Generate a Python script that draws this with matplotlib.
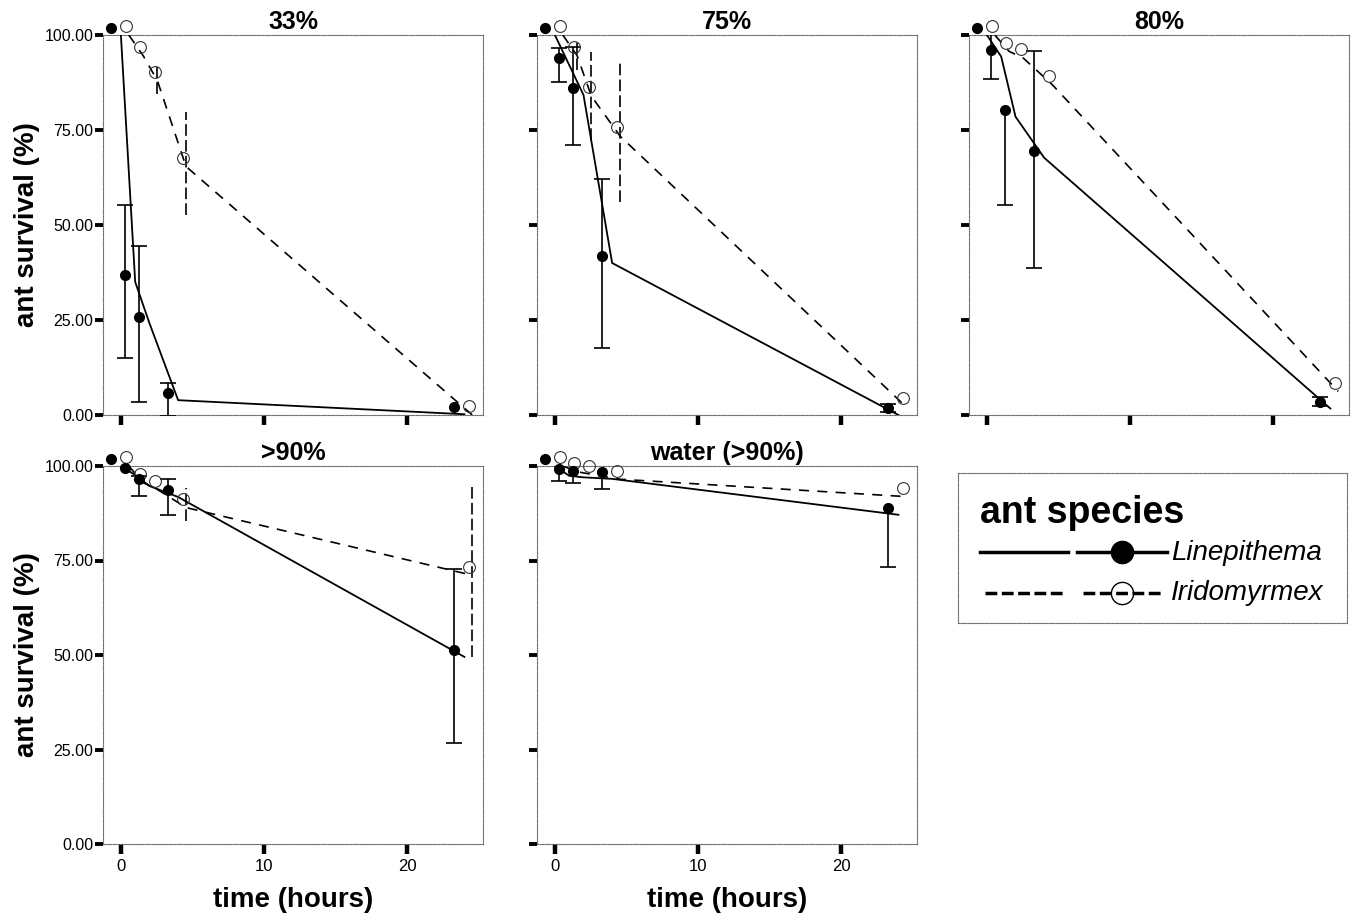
#!/usr/bin/env python3
"""Ant survival over time at five humidity levels, two ant species."""
import numpy as np

import matplotlib
matplotlib.use('Agg')
import matplotlib.pyplot as plt
from matplotlib.ticker import FormatStrFormatter

plt.rcParams['font.family'] = ['Liberation Sans', 'DejaVu Sans']

nan = np.nan

# ── Data ─────────────────────────────────────────────────────────────────
PANEL_TITLES = ['33%', '75%', '80%', '>90%', 'water (>90%)']
TIMES = [0, 1, 2, 4, 24]
Y_TICKS = [0, 25, 50, 75, 100]
X_TICKS = [0, 10, 20]

# Linepithema: mean survival and error bar ends (nan hi = lower half only)
lin_mean = [
    [100, 35.0, 24.1, 3.9, 0.2],
    [100, 92.1, 84.2, 40.0, 0.0],
    [100, 94.3, 78.5, 67.7, 1.7],
    [100, 97.6, 94.7, 91.8, 49.5],
    [100, 97.4, 97.0, 96.6, 87.1],
]
lin_lo = [
    [nan, 13.1, 1.7, -2.0, nan],
    [nan, 85.9, 69.3, 15.9, -1.0],
    [nan, 86.6, 53.5, 37.0, 0.5],
    [nan, nan, 90.3, 85.3, 24.9],
    [nan, 94.3, 93.7, 92.1, 71.6],
]
lin_hi = [
    [nan, 53.5, 42.8, 6.7, nan],
    [nan, 94.7, 95.1, 60.2, 1.0],
    [nan, 100.0, nan, 94.0, 3.0],
    [nan, nan, 95.5, 94.8, 70.9],
    [nan, nan, nan, nan, nan],
]

# Iridomyrmex: mean survival and error bar ends
iri_mean = [
    [100, 94.6, 88.0, 65.4, 0.0],
    [100, 94.6, 83.9, 73.4, 2.1],
    [100, 95.7, 93.9, 87.0, 6.2],
    [100, 95.6, 93.8, 89.0, 71.1],
    [100, 98.5, 97.8, 96.5, 91.9],
]
iri_lo = [
    [nan, nan, 84.5, 52.6, nan],
    [nan, 90.8, 72.4, 56.1, nan],
    [nan, nan, nan, nan, nan],
    [nan, nan, nan, 85.4, 49.6],
    [nan, nan, nan, nan, nan],
]
iri_hi = [
    [nan, nan, 91.5, 79.8, nan],
    [nan, 98.4, 95.4, 93.0, nan],
    [nan, nan, nan, nan, nan],
    [nan, nan, nan, 94.2, 95.1],
    [nan, nan, nan, nan, nan],
]

# the original print has its marker layer slightly shifted against the lines
LIN_MARK_DX, LIN_MARK_DY = -0.7, 1.8
IRI_MARK_DX, IRI_MARK_DY = 0.35, 2.3
IRI_LINE_DX = 0.55

W, H = 1353, 918
PANEL_W, TOP_H, BOT_H = 380, 380, 378
PANEL_BOX = [  # left, top in pixels
    (103, 35), (537, 35), (969, 35),
    (103, 466), (537, 466),
]
SPINE_STYLE = dict(linestyle=(0, (1, 1.2)), linewidth=0.8, color='#6a6a6a')


def px_rect(left, top, w, h):
    return [left / W, 1 - (top + h) / H, w / W, h / H]


def draw_panel(ax, i):
    t = np.array(TIMES, dtype=float)
    lm, llo, lhi = (np.array(a[i], dtype=float) for a in (lin_mean, lin_lo, lin_hi))
    im, ilo, ihi = (np.array(a[i], dtype=float) for a in (iri_mean, iri_lo, iri_hi))

    ax.plot(t, lm, color='black', lw=1.3, zorder=3)
    ax.plot(t + IRI_LINE_DX, im, color='black', lw=1.2, dashes=(6, 5), zorder=3)

    # dashed error bars, no caps
    ok = ~np.isnan(ilo)
    if ok.any():
        ax.vlines(t[ok] + IRI_LINE_DX, ilo[ok], ihi[ok], colors='black',
                  linewidth=1.2, linestyles=(0, (7, 2.5)), zorder=3)

    # solid error bars, capped at each drawn end
    ok = ~np.isnan(llo)
    if ok.any():
        xe = t[ok] + LIN_MARK_DX
        lo = llo[ok] + LIN_MARK_DY
        hi = np.where(np.isnan(lhi[ok]), lm[ok], lhi[ok]) + LIN_MARK_DY
        ax.vlines(xe, lo, hi, colors='black', linewidth=1.2, zorder=3)
        ax.plot(xe, lo, '_', ms=12, mew=1.2, color='black', zorder=3)
        up = ~np.isnan(lhi[ok])
        ax.plot(xe[up], hi[up], '_', ms=12, mew=1.2, color='black', zorder=3)

    ax.plot(t + IRI_MARK_DX, im + IRI_MARK_DY, 'o', ms=8.5, mfc='none',
            mec='#333333', mew=0.8, clip_on=False, zorder=4)
    ax.plot(t + LIN_MARK_DX, lm + LIN_MARK_DY, 'o', ms=7, mfc='black',
            mec='black', clip_on=False, zorder=5)

    ax.set_xlim(-1.25, 25.3)
    ax.set_ylim(0, 100)
    ax.set_xticks(X_TICKS)
    ax.set_yticks(Y_TICKS)
    ax.yaxis.set_major_formatter(FormatStrFormatter('%.2f'))
    ax.tick_params(axis='y', direction='out', length=6, width=2.8, pad=1,
                   labelsize=11.5)
    ax.tick_params(axis='x', direction='out', length=7, width=3.2, pad=4,
                   labelsize=12)
    if i not in (0, 3):
        ax.tick_params(axis='y', labelleft=False)
    if i < 3:
        ax.tick_params(axis='x', labelbottom=False)
    for s in ax.spines.values():
        s.set(**SPINE_STYLE)
    ax.set_title(PANEL_TITLES[i], fontsize=18, fontweight='bold', pad=4)


def draw_legend(fig):
    lax = fig.add_axes(px_rect(958, 473, 389, 150))
    lax.set_xlim(0, 1)
    lax.set_ylim(0, 1)
    lax.set_xticks([])
    lax.set_yticks([])
    for s in lax.spines.values():
        s.set(**SPINE_STYLE)

    lax.text(0.056, 0.665, 'ant species', fontsize=27, fontweight='bold',
             ha='left', va='baseline')

    y1, y2 = 0.475, 0.198
    lax.plot([0.056, 0.283], [y1, y1], color='black', lw=2.5)
    lax.plot([0.306, 0.537], [y1, y1], color='black', lw=2.5)
    lax.plot([0.4216], [y1], 'o', ms=16, mfc='black', mec='black')
    lax.text(0.548, 0.42, 'Linepithema', fontsize=20, style='italic',
             ha='left', va='baseline')

    lax.plot([0.069, 0.275], [y2, y2], color='black', lw=2.5, dashes=(3.4, 1.3))
    lax.plot([0.321, 0.524], [y2, y2], color='black', lw=2.5, dashes=(3.4, 1.3))
    lax.plot([0.4216], [y2], 'o', ms=16, mfc='none', mec='black', mew=1.0)
    lax.text(0.548, 0.153, 'Iridomyrmex', fontsize=20, style='italic',
             ha='left', va='baseline')


def main():
    fig = plt.figure(figsize=(W / 100, H / 100), dpi=100)

    for i, (left, top) in enumerate(PANEL_BOX):
        h = TOP_H if i < 3 else BOT_H
        ax = fig.add_axes(px_rect(left, top, PANEL_W, h))
        draw_panel(ax, i)

    for top, h in ((35, TOP_H), (466, BOT_H)):
        fig.text(27 / W, 1 - (top + h / 2) / H, 'ant survival (%)',
                 rotation=90, ha='center', va='center',
                 fontsize=20, fontweight='bold')
    for left in (103, 537):
        fig.text((left + PANEL_W / 2) / W, 1 - 900 / H, 'time (hours)',
                 ha='center', va='center', fontsize=20, fontweight='bold')

    draw_legend(fig)

    fig.savefig('out.png', dpi=100)
    plt.close(fig)


if __name__ == '__main__':
    main()
